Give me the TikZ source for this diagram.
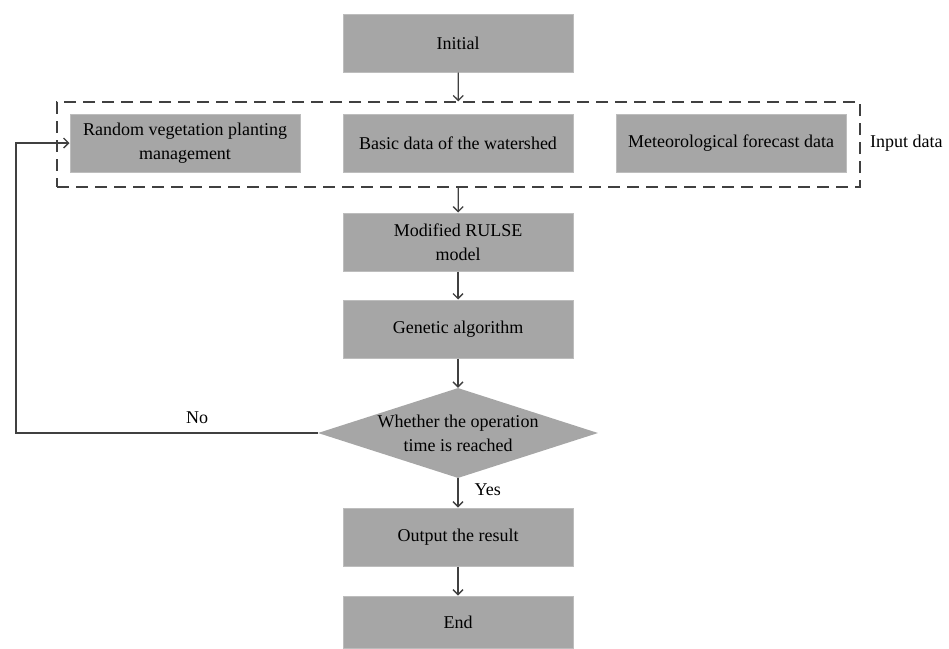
\documentclass[tikz,border=0pt]{standalone}
\usepackage{fontspec}
\setmainfont{Liberation Serif}
\usetikzlibrary{shapes.geometric,arrows.meta}
\definecolor{boxfill}{HTML}{A6A6A6}
\definecolor{boxline}{HTML}{BDBDBD}
\definecolor{linegray}{HTML}{404040}
\begin{document}
\begin{tikzpicture}[x=1pt, y=-1pt, >={Straight Barb[length=5pt,width=10pt]},
	every node/.style={font=\fontsize{18}{24}\selectfont, align=center, inner sep=0pt},
	box/.style={draw=boxline, line width=1pt, fill=boxfill, minimum width=230pt, minimum height=58pt},
	decision/.style={diamond, fill=boxfill, minimum width=280pt, minimum height=90pt},
	link/.style={draw=linegray, line width=1.3pt}]
			\useasboundingbox (0,0) rectangle (949,648);
			\node[draw=linegray, line width=1.3pt, dash pattern=on 12pt off 7pt, minimum width=803pt, minimum height=85pt] (inputs) at (458.5,144.5) {};
			\node[box] (init) at (458,43) {Initial};
			\node[box] (veg) at (185,143) {Random vegetation planting\\management};
			\node[box] (basin) at (458,143) {Basic data of the watershed};
			\node[box] (meteo) at (731,143) {Meteorological forecast data};
			\node[anchor=west] (inlabel) at (870,143) {Input data};
			\node[box] (model) at (458,242) {Modified RULSE\\model};
			\node[box] (ga) at (458,329) {Genetic algorithm};
			\node[decision, label={[font=\fontsize{18}{24}\selectfont, align=center]center:Whether the operation\\time is reached}] (check) at (458,433) {};
			\node[box] (output) at (458,537) {Output the result};
			\node[box, minimum height=52pt] (finish) at (458,622) {End};
			\coordinate (loop) at (16,433);
			\draw[link,->] (init) -- (inputs);
			\draw[link,->] (inputs) -- (model);
			\draw[link,->] (model) -- (ga);
			\draw[link,->] (ga) -- (check);
			\draw[link,->] (check) -- node[pos=0.4, right=16pt] (yes) {Yes} (output);
			\draw[link,->] (output) -- (finish);
			\draw[link,->] (check.west) -- node[above=9pt, pos=0.4] (no) {No} (loop) |- (veg.west);
		\end{tikzpicture}
\end{document}
